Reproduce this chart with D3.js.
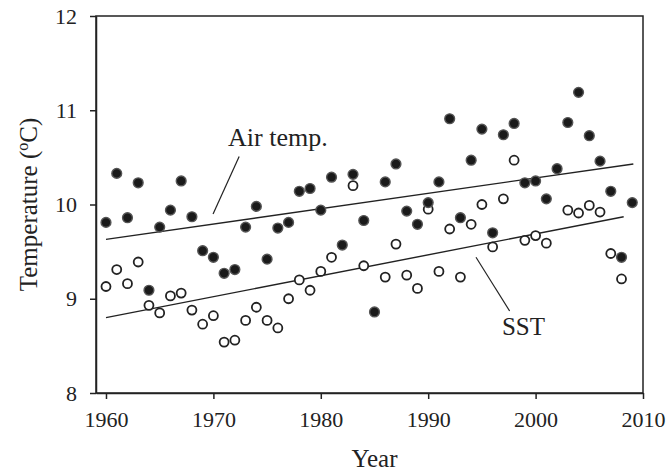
<!DOCTYPE html>
<html>
<head>
<meta charset="utf-8">
<title>Air temp and SST</title>
<script src="https://d3js.org/d3.v7.min.js"></script>
<style>
  html, body { margin: 0; padding: 0; background: #fff; overflow: hidden; }
  svg { display: block; }
  svg text { font-family: "Liberation Serif", "Times New Roman", serif; fill: #222; }
</style>
</head>
<body>
<div id="main"></div>
<script>
	var years   = d3.range(1960, 2010);
	// air temperature (filled dots)
	var airTemp = [9.81, 10.33, 9.86, 10.23, 9.09, 9.76, 9.94, 10.25, 9.87, 9.51,
	               9.44, 9.27, 9.31, 9.76, 9.98, 9.42, 9.75, 9.81, 10.14, 10.17,
	               9.94, 10.29, 9.57, 10.32, 9.83, 8.86, 10.24, 10.43, 9.93, 9.79,
	               10.02, 10.24, 10.91, 9.86, 10.47, 10.80, 9.70, 10.74, 10.86, 10.23,
	               10.25, 10.06, 10.38, 10.87, 11.19, 10.73, 10.46, 10.14, 9.44, 10.02];
	// sea surface temperature (open dots), null = not visible
	var sst     = [9.13, 9.31, 9.16, 9.39, 8.93, 8.85, 9.03, 9.06, 8.88, 8.73,
	               8.82, 8.54, 8.56, 8.77, 8.91, 8.77, 8.69, 9.00, 9.20, 9.09,
	               9.29, 9.44, null, 10.20, 9.35, null, 9.23, 9.58, 9.25, 9.11,
	               9.95, 9.29, 9.74, 9.23, 9.79, 10.00, 9.55, 10.06, 10.47, 9.62,
	               9.67, 9.59, null, 9.94, 9.91, 9.99, 9.92, 9.48, 9.21, null];
	// trend lines
	var airTrend = [[1960, 9.63], [2009.1, 10.43]];
	var sstTrend = [[1960, 8.80], [2008.2, 9.87]];

	var xTicks = [1960, 1970, 1980, 1990, 2000, 2010];
	var yTicks = [8, 9, 10, 11, 12];

	var serif = "Liberation Serif, Times New Roman, serif";

	var screenWidth = 668, screenHeight = 473;
	var margin = {left: 96, top: 16, right: 25, bottom: 80};
	var innerWidth  = screenWidth - margin.left - margin.right;
	var innerHeight = screenHeight - margin.top - margin.bottom;

	var xScale = d3.scaleLinear().domain([1959.07, 2010]).range([0, innerWidth]);
	var yScale = d3.scaleLinear().domain([8, 12]).range([innerHeight, 0]);

	var svg = d3.select("#main").append("svg")
		.attr("width", screenWidth)
		.attr("height", screenHeight)
		.attr("font-family", serif);

	var g = svg.append("g")
		.attr("transform", "translate(" + margin.left + "," + margin.top + ")");

	// frame
	g.append("rect")
		.attr("width", innerWidth).attr("height", innerHeight)
		.attr("fill", "none").attr("stroke", "#222").attr("stroke-width", 1.5);

	var yAxis = g.append("g")
		.call(d3.axisLeft(yScale).tickValues(yTicks).tickFormat(d3.format("d"))
			.tickSize(6).tickSizeOuter(0).tickPadding(13));
	var xAxis = g.append("g")
		.attr("transform", "translate(0," + innerHeight + ")")
		.call(d3.axisBottom(xScale).tickValues(xTicks).tickFormat(d3.format("d"))
			.tickSize(6).tickSizeOuter(0).tickPadding(12));

	[yAxis, xAxis].forEach(function(a) {
		a.attr("font-family", serif);
		a.select(".domain").attr("stroke", "#222").attr("stroke-width", 1.5);
		a.selectAll(".tick line").attr("stroke", "#222").attr("stroke-width", 1.5);
		a.selectAll(".tick text").attr("font-size", 22).attr("fill", "#222");
	});

	// trend lines
	var line = d3.line().x(d => xScale(d[0])).y(d => yScale(d[1]));
	g.selectAll(".trend").data([airTrend, sstTrend]).enter().append("path")
		.attr("class", "trend")
		.attr("d", line)
		.attr("fill", "none").attr("stroke", "#222").attr("stroke-width", 1.4);

	// SST open dots
	var sstPts = years.map((y, i) => ({year: y, v: sst[i]})).filter(d => d.v != null);
	g.selectAll(".sst").data(sstPts).enter().append("circle")
		.attr("class", "sst")
		.attr("cx", d => xScale(d.year))
		.attr("cy", d => yScale(d.v))
		.attr("r", 4.5)
		.attr("fill", "#fff").attr("stroke", "#222").attr("stroke-width", 1.8);

	// air temp filled dots
	var airPts = years.map((y, i) => ({year: y, v: airTemp[i]}));
	g.selectAll(".air").data(airPts).enter().append("circle")
		.attr("class", "air")
		.attr("cx", d => xScale(d.year))
		.attr("cy", d => yScale(d.v))
		.attr("r", 4.9)
		.attr("fill", "#1a1a1a").attr("stroke", "#555").attr("stroke-width", 1.4);

	// annotations
	g.append("text").attr("x", xScale(1971.37)).attr("y", yScale(10.62))
		.attr("font-size", 26).text("Air temp.");
	g.append("line")
		.attr("x1", xScale(1972.4)).attr("y1", yScale(10.51))
		.attr("x2", xScale(1969.97)).attr("y2", yScale(9.90))
		.attr("stroke", "#222").attr("stroke-width", 1.2);
	g.append("text").attr("x", xScale(1996.87)).attr("y", yScale(8.615))
		.attr("font-size", 25).text("SST");
	g.append("line")
		.attr("x1", xScale(1994.45)).attr("y1", yScale(9.44))
		.attr("x2", xScale(1997.58)).attr("y2", yScale(8.87))
		.attr("stroke", "#222").attr("stroke-width", 1.2);

	// axis titles
	svg.append("text")
		.attr("x", margin.left + xScale(1985)).attr("y", 467)
		.attr("text-anchor", "middle").attr("font-size", 25).text("Year");

	var yt = svg.append("text")
		.attr("transform", "translate(37," + (margin.top + innerHeight / 2) + ") rotate(-90)")
		.attr("text-anchor", "middle").attr("font-size", 25);
	yt.append("tspan").text("Temperature (");
	yt.append("tspan").attr("font-size", 16).attr("dy", -9).text("o");
	yt.append("tspan").attr("dy", 9).text("C)");
</script>
</body>
</html>
